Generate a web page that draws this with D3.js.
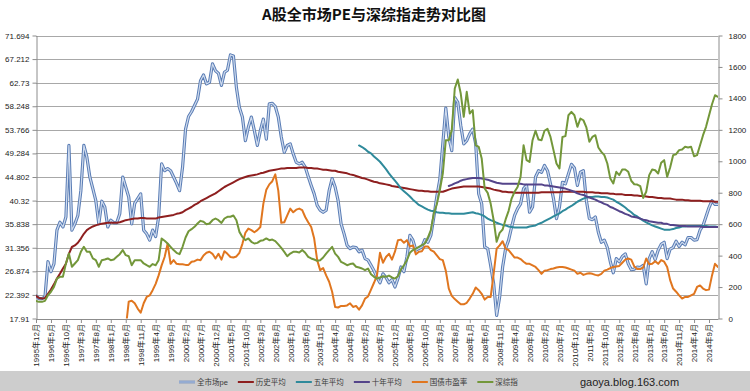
<!DOCTYPE html>
<html><head><meta charset="utf-8">
<script src="https://cdn.jsdelivr.net/npm/d3@7"></script>
<style>body{margin:0;background:#fff} svg{display:block}</style>
</head><body><svg id="c" width="750" height="391"></svg>
<script>
// ---------- DATA ----------
const startYear = 1995, startMonth = 12, monthCount = 229;
const months = [];
for (let k = 0; k < monthCount; k++) {
  const m = (startMonth - 1 + k) % 12 + 1;
  const y = startYear + Math.floor((startMonth - 1 + k) / 12);
  months.push(y + "年" + m + "月");
}
const tickLabels = months.filter((d, i) => i % 5 === 0);
const peTicks = [17.91, 22.392, 26.874, 31.356, 35.838, 40.32, 44.802, 49.284, 53.766, 58.248, 62.73, 67.212, 71.694];
const szTicks = [0, 200, 400, 600, 800, 1000, 1200, 1400, 1600, 1800];

// 全市场pe
const marketPE = [
22.2,21.7,21.7,22.0,28.7,26.8,28.3,34.7,36.2,35.3,
37.2,50.8,34.7,35.9,37.5,42.2,50.8,48.6,44.8,42.6,
40.3,35.9,40.2,39.1,35.3,36.6,36.1,36.1,37.8,44.8,
42.9,41.0,35.9,39.8,40.7,41.6,34.7,34.0,32.8,34.7,
33.5,37.2,47.3,46.0,46.4,46.0,44.8,43.6,42.2,46.7,
53.9,56.3,57.2,58.4,59.6,63.1,64.2,62.5,62.8,66.3,
65.0,64.5,62.2,64.7,65.1,68.0,67.8,61.8,58.0,56.2,
51.7,54.3,56.2,53.6,50.8,53.6,55.8,52.0,58.7,58.8,
58.2,56.2,52.4,49.5,50.8,51.1,49.2,47.6,47.3,47.6,
46.7,44.9,43.2,41.6,39.4,38.5,38.1,38.5,42.2,44.5,
42.9,40.3,35.9,34.0,31.8,31.2,31.5,31.4,30.6,30.9,
29.3,29.0,28.0,27.0,25.7,24.7,26.4,25.7,24.7,25.3,
23.9,25.5,27.7,26.8,29.6,33.7,32.8,30.9,31.2,31.5,
32.9,32.4,33.7,37.2,41.1,44.3,51.1,57.9,52.4,49.8,
59.9,59.0,54.6,51.1,51.7,53.0,53.9,51.1,41.6,39.7,
31.5,31.2,28.0,24.5,18.5,22.0,27.7,31.2,32.8,35.3,
37.5,38.8,39.7,42.6,43.2,38.1,39.1,44.8,46.0,45.7,
47.0,46.0,43.5,40.7,36.9,39.1,43.8,43.5,45.4,47.2,
46.5,43.2,45.7,46.0,40.3,36.9,36.7,37.2,34.3,32.4,
32.8,31.4,28.7,26.6,29.3,28.7,29.7,30.2,28.3,27.2,
27.3,27.7,27.6,28.0,24.5,29.3,30.6,29.1,30.9,32.0,
32.4,29.3,31.1,31.4,32.6,31.6,32.4,31.9,33.3,33.3,
32.8,32.9,34.7,35.6,37.3,39.0,40.3,39.6,39.6];

// 历史平均
const histAvg = [
22.2,21.8,21.7,21.8,22.6,23.4,24.4,25.5,26.4,27.4,
28.3,30.2,31.5,31.8,32.3,33.1,34.0,34.7,35.1,35.4,
35.6,35.8,35.9,36.0,36.1,36.1,36.1,36.1,36.2,36.4,
36.6,36.7,36.8,36.9,36.9,37.0,37.0,36.9,36.9,36.9,
36.9,37.1,37.2,37.3,37.4,37.5,37.6,37.8,37.9,38.1,
38.5,38.8,39.1,39.5,39.8,40.2,40.5,40.8,41.1,41.4,
41.7,42.1,42.5,42.9,43.2,43.5,43.8,44.1,44.4,44.6,
44.8,45.0,45.1,45.2,45.3,45.5,45.6,45.8,46.0,46.1,
46.2,46.3,46.4,46.4,46.5,46.5,46.5,46.5,46.6,46.6,
46.6,46.5,46.5,46.4,46.4,46.3,46.2,46.2,46.1,46.0,
46.0,45.8,45.7,45.6,45.5,45.3,45.2,45.0,44.8,44.6,
44.5,44.3,44.1,43.9,43.8,43.6,43.5,43.4,43.3,43.1,
43.0,42.9,42.8,42.7,42.6,42.5,42.4,42.3,42.2,42.2,
42.1,42.1,42.0,42.0,42.0,42.0,42.0,42.2,42.4,42.6,
42.7,42.8,42.9,43.0,43.0,43.0,43.0,43.0,43.0,42.9,
42.8,42.7,42.6,42.4,42.3,42.2,42.0,42.0,41.9,41.9,
41.8,41.8,41.8,41.8,41.8,41.8,41.8,41.8,41.8,41.9,
41.9,41.9,41.9,41.9,41.9,41.9,42.0,42.0,42.0,42.0,
42.0,42.0,42.0,42.0,41.9,41.9,41.9,41.8,41.8,41.7,
41.7,41.7,41.6,41.6,41.5,41.5,41.5,41.4,41.4,41.4,
41.3,41.3,41.2,41.2,41.1,41.0,41.0,40.9,40.8,40.8,
40.7,40.7,40.7,40.6,40.5,40.5,40.5,40.4,40.4,40.3,
40.3,40.3,40.3,40.2,40.2,40.2,40.2,40.1,40.1];

// 五年平均 (begins 2004年12月)
const avg5Start = 108;
const avg5 = [
50.8,50.5,50.1,49.6,49.3,48.7,48.2,47.7,47.0,46.3,
45.5,44.8,44.1,43.4,42.6,42.1,41.6,41.1,40.5,40.0,
39.5,39.2,38.9,38.6,38.4,38.3,38.1,38.0,38.0,37.9,
37.9,37.8,37.8,37.8,37.8,37.8,37.9,38.0,38.1,37.9,
37.8,37.6,37.3,36.9,36.6,36.4,36.1,35.9,35.7,35.6,
35.4,35.3,35.2,35.2,35.2,35.2,35.2,35.4,35.5,35.6,
35.9,36.1,36.4,36.7,37.0,37.3,37.6,37.9,38.3,38.6,
39.0,39.3,39.7,40.1,40.4,40.7,40.9,41.0,41.0,41.1,
41.1,41.0,41.0,40.9,40.7,40.5,40.1,39.8,39.4,39.0,
38.5,38.1,37.6,37.3,36.9,36.5,36.2,35.9,35.6,35.4,
35.2,35.0,34.8,34.8,34.8,34.9,35.1,35.2,35.4,35.4,
35.5,35.5,35.5,35.5,35.5,35.5,35.5,35.4,35.4,35.4,35.3];

// 十年平均 (begins 2007年6月)
const avg10Start = 138;
const avg10 = [
43.1,43.3,43.6,43.8,44.1,44.3,44.4,44.5,44.6,44.6,
44.6,44.5,44.4,44.3,44.1,43.9,43.7,43.6,43.5,43.5,
43.5,43.5,43.5,43.5,43.5,43.4,43.4,43.4,43.4,43.4,
43.4,43.4,43.2,43.2,43.1,43.0,42.9,42.8,42.7,42.6,
42.4,42.2,42.0,41.7,41.5,41.4,41.1,40.9,40.7,40.5,
40.2,40.0,39.7,39.5,39.1,38.9,38.6,38.3,38.1,37.8,
37.6,37.3,37.2,37.1,36.9,36.7,36.6,36.4,36.3,36.2,
36.1,36.1,35.9,35.9,35.7,35.7,35.6,35.5,35.5,35.5,
35.4,35.4,35.4,35.4,35.4,35.3,35.3,35.3,35.3,35.3,35.3];

// 国债市盈率 (visible from 1998年6月)
const bondStart = 30;
const bondPE = [
16.0,21.1,21.3,20.8,19.8,19.0,20.8,22.0,22.3,23.3,
24.5,26.1,28.0,29.6,32.1,28.3,29.0,28.3,28.2,28.2,
28.1,28.1,28.7,28.8,29.1,29.0,29.9,30.4,30.6,30.2,
29.3,30.2,29.1,30.7,30.2,29.6,29.5,29.7,30.4,32.1,
34.2,35.0,34.7,34.3,34.7,35.3,39.7,42.4,43.4,44.0,
45.3,42.2,36.1,36.2,37.5,38.8,38.1,38.6,38.8,38.5,
37.2,36.2,35.3,33.1,29.0,27.1,27.5,26.1,24.9,23.0,
20.1,20.0,20.3,20.3,20.4,20.8,20.1,20.3,19.6,20.4,
21.7,22.1,23.4,24.7,26.1,30.4,28.5,29.6,30.2,29.1,
30.6,32.8,32.9,32.3,32.8,31.6,31.8,30.1,30.6,30.7,
31.6,31.6,30.9,30.6,29.9,29.2,29.0,27.0,23.6,22.2,
21.6,21.1,20.6,20.6,20.9,21.7,22.6,23.8,23.3,22.6,
21.5,22.0,22.0,26.4,31.2,31.8,32.6,31.2,30.9,30.2,
29.5,29.5,29.2,28.7,28.3,28.3,28.0,27.7,27.1,26.4,
27.0,27.1,27.3,27.4,27.6,27.7,27.7,27.6,27.4,27.2,
27.0,26.4,26.6,26.2,26.4,26.5,26.4,26.2,26.1,26.4,
27.0,27.2,27.5,27.7,27.8,27.9,28.5,29.1,29.3,29.1,
27.8,27.3,27.3,27.6,29.3,28.2,28.3,28.8,28.3,29.0,
28.7,27.7,25.2,23.6,23.0,22.3,21.7,22.0,22.0,22.3,
22.6,23.9,24.2,23.6,23.3,23.4,26.1,28.3,27.7];

// 深综指 (right axis)
const szIndex = [
112,106,106,112,148,170,201,254,265,265,
350,413,329,350,371,424,456,424,424,382,
371,329,371,375,382,371,375,392,409,435,
403,396,339,371,371,371,350,339,329,346,
339,371,509,494,477,456,435,418,409,456,
515,555,568,583,604,621,615,600,604,625,
636,625,608,636,647,647,655,625,551,519,
498,509,488,477,481,494,498,509,498,502,
492,471,449,424,396,413,424,424,420,435,
418,392,382,375,367,371,388,413,435,456,
413,392,360,350,339,346,350,329,324,318,
307,318,282,265,254,261,269,265,273,261,
254,269,312,339,371,418,435,445,456,466,
477,515,562,668,727,816,922,1134,1134,1198,
1463,1520,1431,1283,1442,1304,1325,1102,1092,1018,
827,799,731,625,488,545,566,630,685,763,
806,837,901,1102,1007,996,1134,1194,1138,1134,
1194,1206,1155,1071,986,954,1155,1160,1293,1314,
1293,1219,1272,1261,1215,1124,1155,1166,1088,1060,
1039,986,890,859,933,912,948,948,933,876,
854,852,842,767,806,912,948,943,922,990,
1007,901,960,1039,1045,1071,1075,1092,1088,1092,
1032,1039,1102,1166,1219,1291,1363,1420,1410];

const seriesNames = ["全市场pe", "历史平均", "五年平均", "十年平均", "国债市盈率", "深综指"];

// ---------- LAYOUT ----------
const W = 750, H = 391;
const L = 36, R = 718, T = 35.5, B = 318.5;
const fontAxis = '"Liberation Sans","Noto Sans CJK SC",sans-serif';
const colors = {
  pe: "#5a7db5", peInner: "#cfdbee", hist: "#8e1f1f", a5: "#2f8a9b",
  a10: "#54448a", bond: "#e0761f", sz: "#73973a"
};

const svg = d3.select("#c");
svg.append("rect").attr("width", W).attr("height", H).attr("fill", "#fff");

const x = d3.scalePoint().domain(months).range([L, R]);
const yL = d3.scaleLinear().domain([17.91, 71.694]).range([B, T]);
const yR = d3.scaleLinear().domain([0, 1800]).range([B, T]);

// title
svg.append("text").attr("x", 374).attr("y", 20).attr("text-anchor", "middle")
  .style("font-family", '"Noto Sans CJK SC",sans-serif').style("font-size", "15px")
  .style("font-weight", "bold").attr("fill", "#111").text("A股全市场PE与深综指走势对比图");

// gridlines
svg.append("g").selectAll("line").data(peTicks).join("line")
  .attr("x1", L).attr("x2", R)
  .attr("y1", d => Math.round(yL(d)) + 0.5).attr("y2", d => Math.round(yL(d)) + 0.5)
  .attr("stroke", "#a8a8a8").attr("stroke-width", 1);

// axes
function styleAxis(g) {
  g.selectAll(".domain").attr("stroke", "#8c8c8c");
  g.selectAll(".tick line").attr("stroke", "#8c8c8c");
  g.selectAll("text").attr("fill", "#222").style("font-family", fontAxis).style("font-size", "8px");
}
const gL = svg.append("g").attr("transform", `translate(${L + 0.5},0)`)
  .call(d3.axisLeft(yL).tickValues(peTicks).tickFormat(d => String(d)).tickSize(4).tickSizeOuter(0).tickPadding(3));
styleAxis(gL);
const gR = svg.append("g").attr("transform", `translate(${R + 0.5},0)`)
  .call(d3.axisRight(yR).tickValues(szTicks).tickFormat(d => String(d)).tickSize(4).tickSizeOuter(0).tickPadding(6));
styleAxis(gR);
const gB = svg.append("g").attr("transform", `translate(0,${B + 0.5})`)
  .call(d3.axisBottom(x).tickValues(tickLabels).tickSize(4).tickSizeOuter(0));
styleAxis(gB);
gB.selectAll("text").attr("transform", "rotate(-90)").attr("x", -5).attr("y", 0)
  .attr("dy", "0.35em").style("text-anchor", "end");

// clip
svg.append("clipPath").attr("id", "clip").append("rect")
  .attr("x", L).attr("y", T - 2).attr("width", R - L).attr("height", B - T + 2);
const plot = svg.append("g").attr("clip-path", "url(#clip)");

function lineL(offset) {
  return d3.line().defined(d => d != null)
    .x((d, i) => x(months[i + offset])).y(d => yL(d));
}
const lineR = d3.line().x((d, i) => x(months[i])).y(d => yR(d));

function addPath(data, gen, color, width) {
  plot.append("path").datum(data).attr("d", gen).attr("fill", "none")
    .attr("stroke", color).attr("stroke-width", width)
    .attr("stroke-linejoin", "round").attr("stroke-linecap", "round");
}
addPath(marketPE, lineL(0), colors.pe, 3.2);
addPath(marketPE, lineL(0), colors.peInner, 1.2);
addPath(histAvg, lineL(0), colors.hist, 2);
addPath(avg5, lineL(avg5Start), colors.a5, 2);
addPath(avg10, lineL(avg10Start), colors.a10, 2);
addPath(bondPE, lineL(bondStart), colors.bond, 2);
addPath(szIndex, lineR, colors.sz, 2);

// legend band
svg.append("rect").attr("x", 0).attr("y", 371).attr("width", W).attr("height", 20).attr("fill", "#cdcdcd");
const legendColors = [colors.pe, colors.hist, colors.a5, colors.a10, colors.bond, colors.sz];
let cx = 179;
const ly = 382;
const lg = svg.append("g");
seriesNames.forEach((name, i) => {
  const item = lg.append("g");
  item.append("line").attr("x1", cx).attr("x2", cx + 16).attr("y1", ly).attr("y2", ly)
    .attr("stroke", legendColors[i]).attr("stroke-width", i === 0 ? 2.6 : 2);
  if (i === 0) item.append("line").attr("x1", cx).attr("x2", cx + 16).attr("y1", ly).attr("y2", ly)
    .attr("stroke", colors.peInner).attr("stroke-width", 1);
  const t = item.append("text").attr("x", cx + 18).attr("y", ly).attr("dy", "0.35em")
    .style("font-family", fontAxis).style("font-size", "7.5px").attr("fill", "#3a3a3a").text(name);
  cx += 18 + t.node().getComputedTextLength() + 10;
});

svg.append("text").attr("x", 580).attr("y", 386).style("font-family", '"Liberation Sans",Arial,sans-serif')
  .style("font-size", "11px").attr("fill", "#222").text("gaoya.blog.163.com");
</script>
</body></html>
